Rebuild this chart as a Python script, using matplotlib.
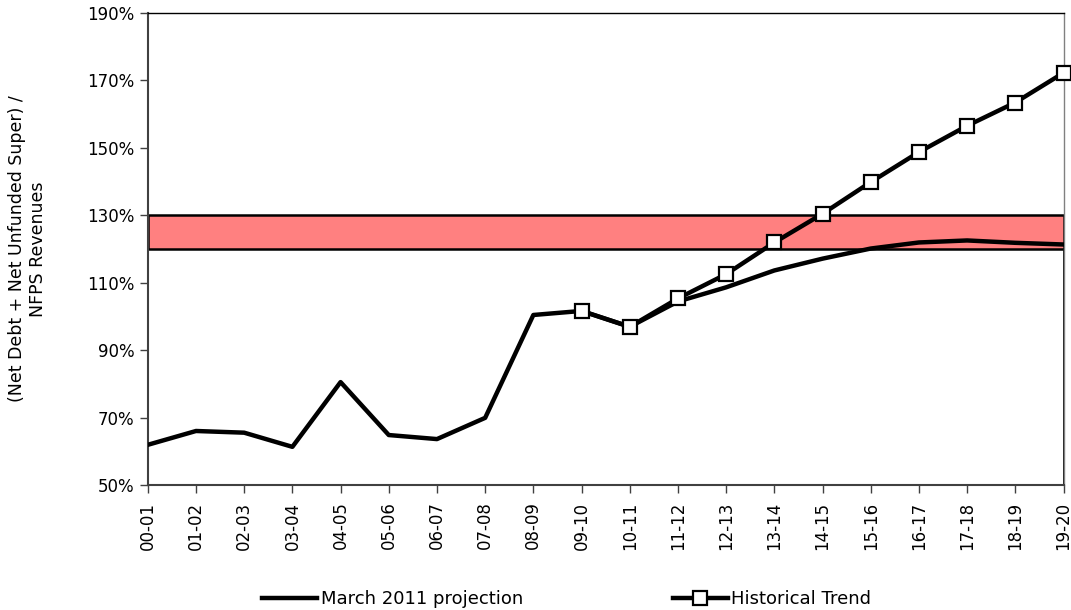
import numpy as np
import matplotlib.pyplot as plt

years = ["00-01", "01-02", "02-03", "03-04", "04-05", "05-06", "06-07",
         "07-08", "08-09", "09-10", "10-11", "11-12", "12-13", "13-14",
         "14-15", "15-16", "16-17", "17-18", "18-19", "19-20"]

projection = [61.9, 66.0, 65.5, 61.3, 80.5, 64.8, 63.6, 69.9, 100.4, 101.6,
              96.9, 104.4, 108.6, 113.6, 117.1, 120.1, 121.9, 122.5, 121.8, 121.3]

# historical trend starts at 09-10
hist_years = years[9:]
historical = [101.6, 96.9, 105.3, 112.5, 121.9, 130.4, 139.8, 148.7, 156.5,
              163.4, 172.2]

band_low = 120
band_high = 130

x = np.arange(len(years))
xh = np.arange(9, len(years))

plt.rcParams['font.family'] = ['DejaVu Sans']
FS = 12

fig = plt.figure(figsize=(10.71, 6.10), dpi=100)
ax = fig.add_axes([0.138, 0.205, 0.855, 0.774])

# target band
ax.fill_between([0, len(years) - 1], band_low, band_high, facecolor='#ff8080',
                edgecolor='black', linewidth=1.8, zorder=1)
ax.plot([len(years) - 1, len(years) - 1], [50, band_low], color='black',
        linewidth=2, zorder=1)

ax.plot(x, projection, color='black', linewidth=3.2, solid_joinstyle='round',
        label='March 2011 projection', zorder=3)
ax.plot(xh, historical, color='black', linewidth=3.2, marker='s', markersize=10,
        markerfacecolor='white', markeredgecolor='black', markeredgewidth=1.6,
        label='Historical Trend', zorder=4, clip_on=False)

ax.set_xlim(0, len(years) - 1)
ax.set_ylim(50, 190)
ax.set_yticks(np.arange(50, 191, 20))
ax.set_yticklabels([f"{v}%" for v in range(50, 191, 20)], fontsize=FS)
ax.set_xticks(x)
ax.set_xticklabels(years, rotation=90, fontsize=FS)
ax.tick_params(axis='both', direction='out', length=6, width=1, color='#404040')
ax.tick_params(axis='x', pad=6)

ax.spines['top'].set_linewidth(1)
ax.spines['right'].set_color('#808080')
ax.spines['right'].set_linewidth(1)
ax.spines['left'].set_color('#404040')
ax.spines['left'].set_linewidth(1.5)
ax.spines['bottom'].set_color('#404040')
ax.spines['bottom'].set_linewidth(1.5)

ax.set_ylabel("(Net Debt + Net Unfunded Super) /\nNFPS Revenues", fontsize=12.5,
              labelpad=29)

fig.legend(loc='lower center', bbox_to_anchor=(0.529, -0.024), ncol=2, frameon=False,
           fontsize=13, handlelength=3.05, handletextpad=0.2, columnspacing=8.3)

fig.savefig("out.png", dpi=100)
